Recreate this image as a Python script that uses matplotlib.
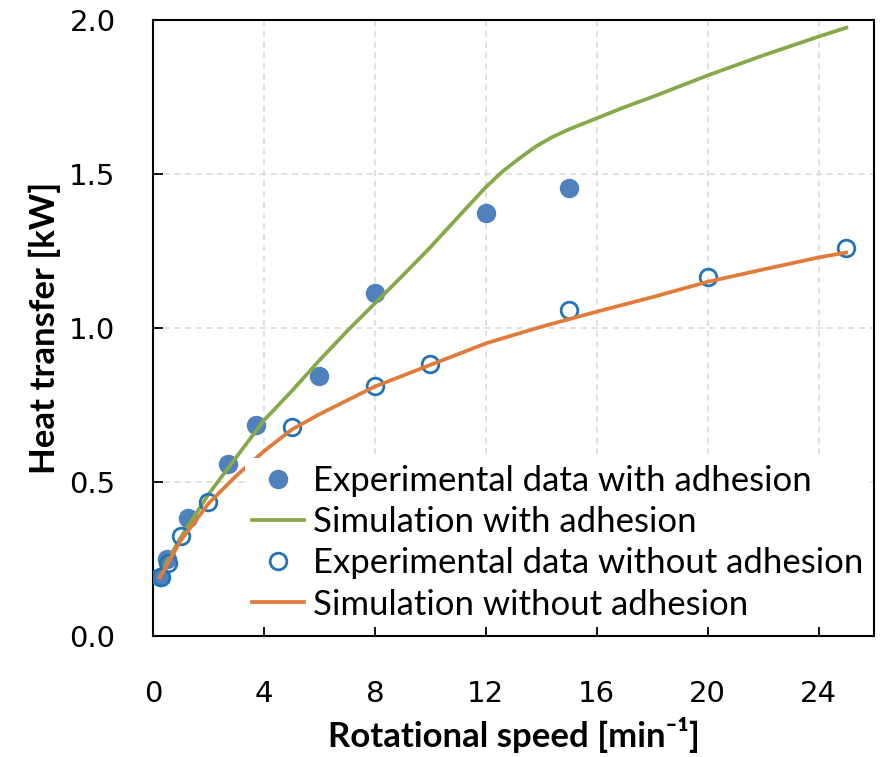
import matplotlib
matplotlib.use("Agg")
import matplotlib.pyplot as plt
from matplotlib.lines import Line2D

# Measured heat transfer [kW] over rotational speed [1/min]
exp_with_x = [0.25, 0.5, 1.25, 2.7, 3.7, 6.0, 8.0, 12.0, 15.0]
exp_with_y = [0.193, 0.25, 0.384, 0.558, 0.685, 0.844, 1.114, 1.373, 1.455]

exp_without_x = [0.3, 0.55, 1.0, 2.0, 5.0, 8.0, 10.0, 15.0, 20.0, 25.0]
exp_without_y = [0.19, 0.238, 0.325, 0.435, 0.68, 0.813, 0.882, 1.058, 1.167, 1.259]

# Simulation curves
sim_with_x = [0.25, 0.5, 1, 1.5, 2, 3, 4, 5, 6, 7, 8, 9, 10, 11, 12, 12.6, 13.2,
              13.8, 14.4, 15, 16, 17, 18, 20, 22, 24, 25]
sim_with_y = [0.19, 0.24, 0.32, 0.39, 0.46, 0.58, 0.70, 0.795, 0.895, 0.99, 1.08,
              1.17, 1.262, 1.36, 1.457, 1.508, 1.55, 1.589, 1.62, 1.645, 1.681,
              1.717, 1.75, 1.82, 1.885, 1.946, 1.975]

sim_without_x = [0.25, 0.5, 1, 1.5, 2, 3, 4, 5, 6, 8, 10, 12, 14, 16, 18, 20, 22, 24, 25]
sim_without_y = [0.19, 0.23, 0.31, 0.37, 0.43, 0.52, 0.60, 0.67, 0.72, 0.81, 0.88,
                 0.95, 1.004, 1.053, 1.10, 1.15, 1.19, 1.229, 1.245]

x_ticks = [0, 4, 8, 12, 16, 20, 24]
y_ticks = [0.0, 0.5, 1.0, 1.5, 2.0]

C_FILLED = "#4f81bd"
C_OPEN = "#2274b5"
C_GREEN = "#86a94a"
C_ORANGE = "#e07b39"

fig = plt.figure(figsize=(8.84, 7.57), dpi=100)
ax = fig.add_axes([153 / 884, 1 - 636 / 757, 721 / 884, 616 / 757])

ax.plot(exp_with_x, exp_with_y, linestyle="none", marker="o", markersize=13,
        markerfacecolor=C_FILLED, markeredgecolor=C_FILLED, zorder=3)
ax.plot(sim_with_x, sim_with_y, color=C_GREEN, linewidth=2.7, zorder=4)
ax.plot(exp_without_x, exp_without_y, linestyle="none", marker="o", markersize=12,
        markerfacecolor="none", markeredgecolor=C_OPEN, markeredgewidth=2.0, zorder=5)
ax.plot(sim_without_x, sim_without_y, color=C_ORANGE, linewidth=2.7, zorder=6)

ax.set_xlim(0, 26)
ax.set_ylim(0, 2.0)
ax.set_xticks(x_ticks)
ax.set_yticks(y_ticks)
ax.set_yticklabels([f"{v:.1f}" for v in y_ticks])

ax.grid(True, color="#d9d9d9", linestyle=(0, (4, 3)), linewidth=1.1)
ax.set_axisbelow(True)

for s in ax.spines.values():
    s.set_linewidth(1.5)
    s.set_color("black")

ax.tick_params(axis="both", direction="in", length=7, width=1.3,
               labelsize=21, colors="black")
ax.tick_params(axis="x", pad=32)
ax.tick_params(axis="y", pad=27)
for lab in ax.get_xticklabels() + ax.get_yticklabels():
    lab.set_family("DejaVu Sans")

ax.set_xlabel("Rotational speed [min⁻¹]", fontsize=25, fontweight="bold",
              family=["Lato", "DejaVu Sans"], labelpad=6)
ax.set_ylabel("Heat transfer [kW]", fontsize=25, fontweight="bold",
              family="Lato", labelpad=6)

handles = [
    Line2D([], [], linestyle="none", marker="o", markersize=13,
           markerfacecolor=C_FILLED, markeredgecolor=C_FILLED),
    Line2D([], [], color=C_GREEN, linewidth=2.7),
    Line2D([], [], linestyle="none", marker="o", markersize=12,
           markerfacecolor="none", markeredgecolor=C_OPEN, markeredgewidth=2.0),
    Line2D([], [], color=C_ORANGE, linewidth=2.7),
]
labels = [
    "Experimental data with adhesion",
    "Simulation with adhesion",
    "Experimental data without adhesion",
    "Simulation without adhesion",
]
leg = ax.legend(handles, labels, loc="upper left",
                bbox_to_anchor=((245 - 153) / 721, (636 - 458) / 616),
                prop={"family": "Lato", "size": 25}, frameon=True,
                fancybox=False, edgecolor="none", facecolor="white",
                framealpha=1.0, borderpad=0.2, handlelength=1.5,
                handletextpad=0.25, labelspacing=0.265, borderaxespad=0)
leg.set_zorder(10)

fig.savefig("out.png", dpi=100)
